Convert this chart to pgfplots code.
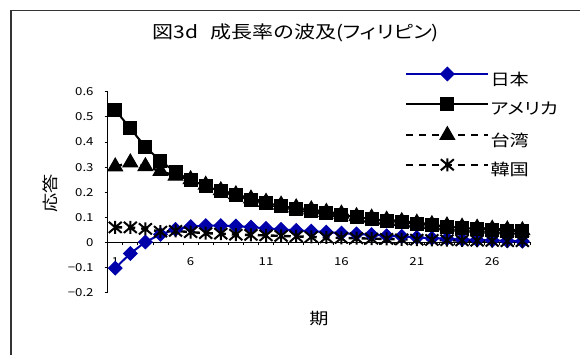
\documentclass[border=0pt]{standalone}
\usepackage{fontspec}
\setmainfont{Noto Sans CJK JP}[FakeStretch=1.2,RawFeature=+palt]
\usepackage{pgfplots}
\pgfplotsset{compat=1.18}
\definecolor{jpblue}{HTML}{0000AA}
\definecolor{frame}{HTML}{333333}

% Excel-like marks: filled diamond, and an asterisk made of an X plus a vertical bar
\pgfdeclareplotmark{dia}{%
  \pgfpathmoveto{\pgfqpoint{0pt}{\pgfplotmarksize}}%
  \pgfpathlineto{\pgfqpoint{\pgfplotmarksize}{0pt}}%
  \pgfpathlineto{\pgfqpoint{0pt}{-\pgfplotmarksize}}%
  \pgfpathlineto{\pgfqpoint{-\pgfplotmarksize}{0pt}}%
  \pgfpathclose\pgfusepathqfillstroke}
\pgfdeclareplotmark{xast}{%
  \pgfpathmoveto{\pgfqpoint{0pt}{\pgfplotmarksize}}%
  \pgfpathlineto{\pgfqpoint{0pt}{-\pgfplotmarksize}}%
  \pgfpathmoveto{\pgfqpoint{-\pgfplotmarksize}{.85\pgfplotmarksize}}%
  \pgfpathlineto{\pgfqpoint{\pgfplotmarksize}{-.85\pgfplotmarksize}}%
  \pgfpathmoveto{\pgfqpoint{-\pgfplotmarksize}{-.85\pgfplotmarksize}}%
  \pgfpathlineto{\pgfqpoint{\pgfplotmarksize}{.85\pgfplotmarksize}}%
  \pgfusepathqstroke}

\begin{document}
\begin{tikzpicture}[x=1bp,y=1bp]
\useasboundingbox (0,0) rectangle (580,354);
\clip (0,0) rectangle (580,354);
\draw[line width=1.3bp, frame] (11,-20) -- (11,343.5) -- (600,343.5);
\begin{axis}[
  at={(107.7bp,61.3bp)}, anchor=south west,
  scale only axis, width=422.2bp, height=201bp,
  xmin=0.5, xmax=28.5, ymin=-0.2, ymax=0.6,
  axis x line=middle, axis y line=left,
  x axis line style={-, line width=0.8bp},
  y axis line style={-, line width=0.8bp},
  hide obscured x ticks=false,
  xtick={0.5,1.5,...,28.5}, xticklabels={},
  extra x ticks={1,6,11,16,21,26},
  extra x tick labels={1,6,11,16,21,26},
  extra x tick style={major tick length=0pt},
  ytick={-0.2,-0.1,0,0.1,0.2,0.3,0.4,0.5,0.6},
  yticklabels={−0.2,−0.1,0,0.1,0.2,0.3,0.4,0.5,0.6},
  tick align=outside, major tick length=3bp,
  tick style={black, line width=0.8bp},
  tick label style={font=\fontsize{11bp}{11bp}\selectfont},
  yticklabel style={inner sep=0pt, anchor=east, xshift=-11bp},
  xticklabel style={inner sep=0pt, anchor=center, yshift=-19bp},
  clip=false,
  legend style={
    at={(axis description cs:0.704,1.123)}, anchor=north west,
    draw=none, fill=none, inner sep=0pt, row sep=9bp,
    font=\fontsize{16bp}{16bp}\selectfont,
    nodes={inner sep=0pt, text height=14bp, text depth=3bp, anchor=west},
    /tikz/every odd column/.append style={column sep=1bp}},
  legend cell align=left,
  legend image code/.code={\draw[mark repeat=2,mark phase=2,#1]
    plot coordinates {(0bp,5.6bp) (41bp,5.6bp) (82bp,5.6bp)};},
]
\addplot[jpblue, line width=2bp, mark=dia, mark size=6.8bp, mark options={solid, fill=jpblue, line width=1bp}] coordinates {
(1,-0.102) (2,-0.044) (3,0.002) (4,0.032) (5,0.052) (6,0.063) (7,0.067) (8,0.067)
(9,0.065) (10,0.061) (11,0.056) (12,0.052) (13,0.048) (14,0.045) (15,0.041) (16,0.037)
(17,0.034) (18,0.031) (19,0.027) (20,0.024) (21,0.020) (22,0.017) (23,0.015) (24,0.012)
(25,0.010) (26,0.008) (27,0.006) (28,0.005)};
\addplot[black, line width=2bp, mark=square*, mark size=6.5bp, mark options={solid, line width=1bp}] coordinates {
(1,0.527) (2,0.454) (3,0.380) (4,0.325) (5,0.280) (6,0.248) (7,0.225) (8,0.203)
(9,0.187) (10,0.170) (11,0.157) (12,0.146) (13,0.135) (14,0.127) (15,0.117) (16,0.110)
(17,0.100) (18,0.094) (19,0.086) (20,0.080) (21,0.074) (22,0.068) (23,0.063) (24,0.058)
(25,0.054) (26,0.050) (27,0.047) (28,0.044)};
\addplot[black, line width=2.4bp, dash pattern=on 7bp off 6bp, mark=triangle*, mark size=8.5bp, mark options={solid, line width=1bp}] coordinates {
(1,0.302) (2,0.318) (3,0.303) (4,0.284) (5,0.265) (6,0.251) (7,0.229) (8,0.207)
(9,0.191) (10,0.174) (11,0.161) (12,0.150) (13,0.139) (14,0.131) (15,0.121) (16,0.114)
(17,0.104) (18,0.098) (19,0.090) (20,0.084) (21,0.078) (22,0.072) (23,0.067) (24,0.062)
(25,0.058) (26,0.054) (27,0.051) (28,0.048)};
\addplot[black, line width=2.4bp, dash pattern=on 7bp off 6bp, mark=xast, mark size=6.5bp, mark options={solid, line width=2bp}] coordinates {
(1,0.060) (2,0.060) (3,0.054) (4,0.043) (5,0.046) (6,0.041) (7,0.037) (8,0.035)
(9,0.031) (10,0.030) (11,0.028) (12,0.026) (13,0.024) (14,0.022) (15,0.020) (16,0.018)
(17,0.017) (18,0.015) (19,0.014) (20,0.012) (21,0.011) (22,0.010) (23,0.009) (24,0.008)
(25,0.007) (26,0.006) (27,0.005) (28,0.005)};
\legend{日本,アメリカ,台湾,韓国}
\end{axis}
\node[font=\fontsize{17.5bp}{17.5bp}\selectfont, anchor=mid] at (296,318) {図3d\hspace{0.7em}成長率の波及(フィリピン)};
\node[font=\fontsize{16bp}{16bp}\selectfont, rotate=90] at (50,161) {応答};
\node[font=\fontsize{16bp}{16bp}\selectfont] at (319,35) {期};
\end{tikzpicture}
\end{document}
